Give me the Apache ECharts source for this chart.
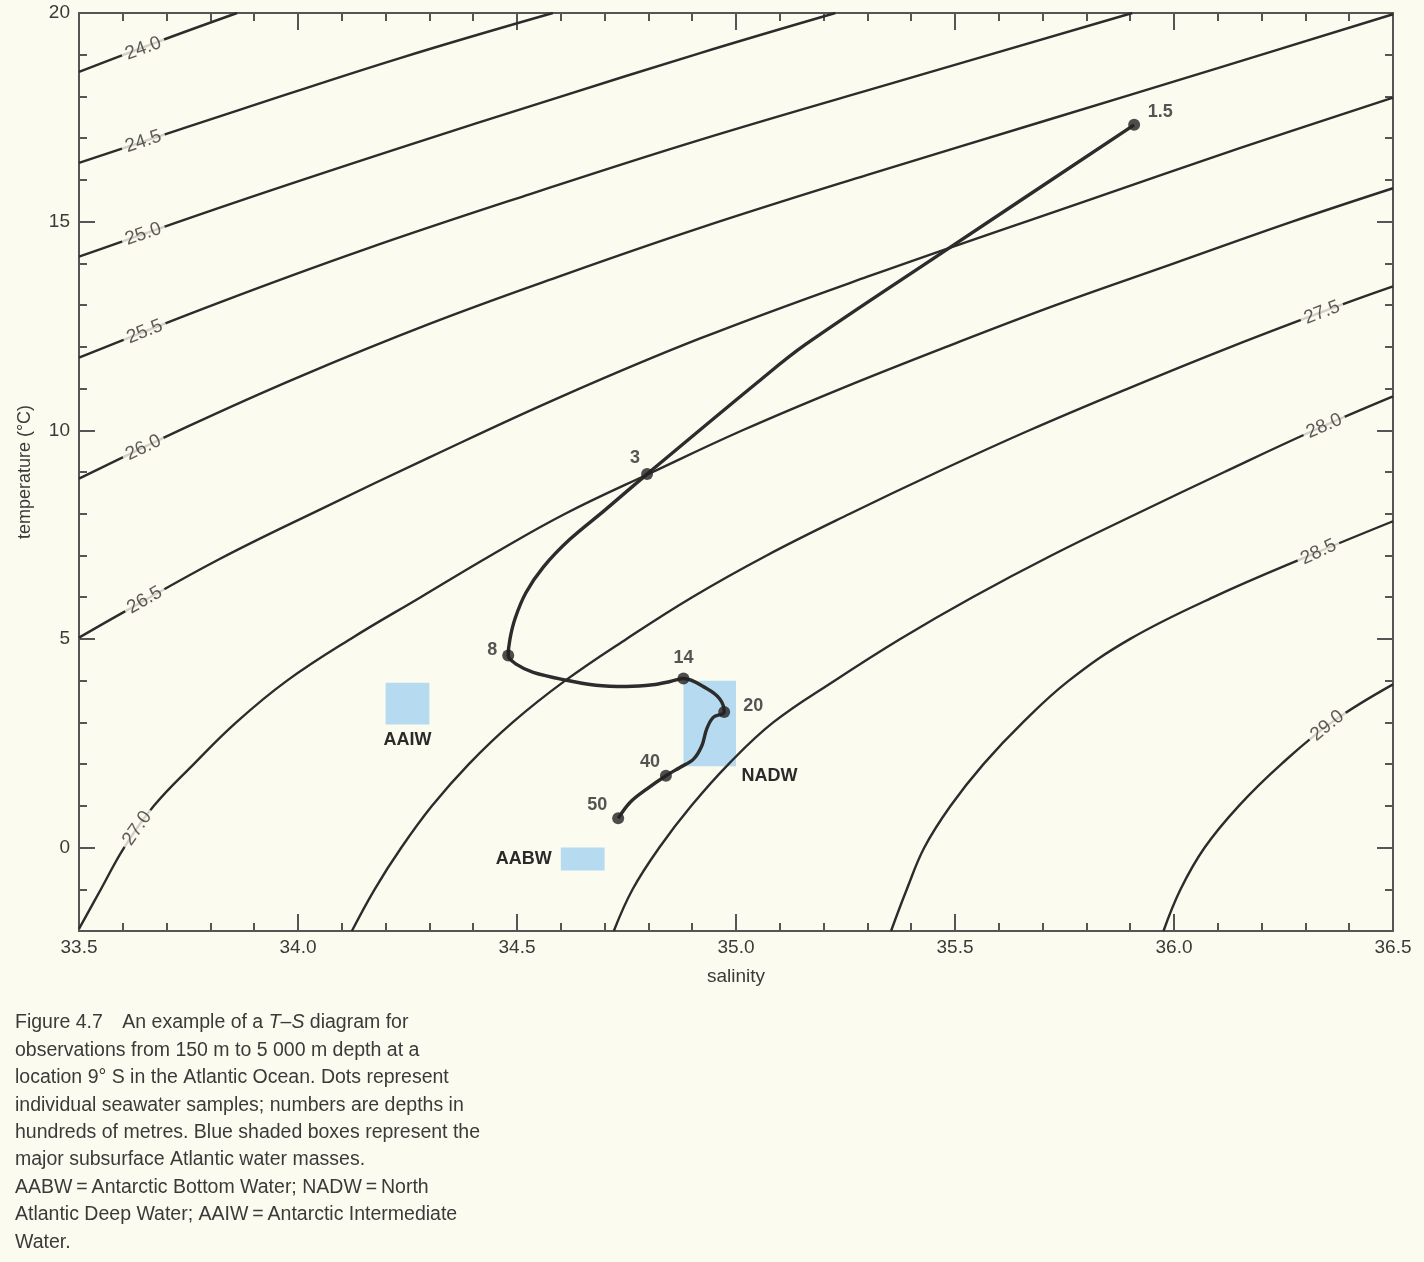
<!DOCTYPE html>
<html>
<head>
<meta charset="utf-8">
<script src="https://cdn.jsdelivr.net/npm/echarts@6/dist/echarts.min.js"></script>
<style>
  html, body { margin: 0; padding: 0; background: #fcfbef; }
  #chart { width: 1424px; height: 1262px; }
</style>
</head>
<body>
<div id="chart"></div>
<script>
// ---- isopycnals (sigma-t) as [salinity, temperature °C] ----
const sigma24_0 = [[33.5, 18.59], [33.68, 19.31], [33.861, 20.0]];
const sigma24_5 = [[33.5, 16.41], [33.87, 17.69], [34.233, 18.92], [34.582, 20.0]];
const sigma25_0 = [[33.5, 14.16], [33.85, 15.44], [34.233, 16.77], [34.58, 17.93], [34.918, 19.04], [35.227, 20.0]];
const sigma25_5 = [[33.5, 11.74], [33.82, 13.06], [34.151, 14.33], [34.53, 15.66], [34.918, 16.96], [35.4, 18.45], [35.905, 20.0]];
const sigma26_0 = [[33.5, 8.84], [33.75, 10.1], [34.0, 11.27], [34.3, 12.55], [34.6, 13.7], [34.918, 14.85], [35.3, 16.12], [35.7, 17.4], [36.1, 18.68], [36.5, 19.97]];
const sigma26_5 = [[33.5, 5.03], [33.6, 5.63], [33.82, 6.91], [34.05, 8.1], [34.3, 9.35], [34.6, 10.8], [34.918, 12.2], [35.3, 13.68], [35.8, 15.5], [36.15, 16.76], [36.5, 17.97]];
const sigma27_0 = [[33.5, -1.95], [33.55, -1.0], [33.603, 0.0], [33.671, 1.0], [33.762, 2.0], [33.859, 3.0], [33.975, 4.0], [34.12, 5.0], [34.28, 6.0], [34.44, 7.0], [34.61, 8.0], [34.81, 9.0], [35.015, 10.0], [35.24, 11.0], [35.48, 12.0], [35.73, 13.0], [36.0, 14.0], [36.27, 15.0], [36.5, 15.8]];
const sigma27_5 = [[34.123, -2.0], [34.175, -1.0], [34.236, 0.0], [34.306, 1.0], [34.39, 2.0], [34.49, 3.0], [34.61, 4.0], [34.75, 5.0], [34.9, 6.0], [35.07, 7.0], [35.26, 8.0], [35.46, 9.0], [35.67, 10.0], [35.895, 11.0], [36.13, 12.0], [36.38, 13.0], [36.5, 13.45]];
const sigma28_0 = [[34.721, -2.0], [34.764, -1.0], [34.825, 0.0], [34.898, 1.0], [34.983, 2.0], [35.085, 3.0], [35.225, 4.0], [35.375, 5.0], [35.54, 6.0], [35.72, 7.0], [35.915, 8.0], [36.115, 9.0], [36.32, 10.0], [36.5, 10.81]];
const sigma28_5 = [[35.354, -2.0], [35.39, -1.0], [35.43, 0.0], [35.49, 1.0], [35.565, 2.0], [35.655, 3.0], [35.76, 4.0], [35.9, 5.0], [36.09, 6.0], [36.31, 7.0], [36.5, 7.82]];
const sigma29_0 = [[35.976, -2.0], [36.015, -1.0], [36.07, 0.0], [36.148, 1.0], [36.245, 2.0], [36.36, 3.0], [36.5, 3.91]];

// contour labels
const contourLabelText = ['24.0', '24.5', '25.0', '25.5', '26.0', '26.5', '27.0', '27.5', '28.0', '28.5', '29.0'];
const contourLabelS = [33.647, 33.647, 33.647, 33.65, 33.647, 33.65, 33.633, 36.338, 36.343, 36.33, 36.35];
const contourLabelT = [19.15, 16.92, 14.7, 12.36, 9.58, 5.93, 0.46, 12.82, 10.1, 7.08, 2.92];

// ---- T–S profile at 9° S (line through the observations) ----
const profileS = [35.909, 35.47, 35.158, 35.055, 34.797, 34.70, 34.62, 34.56, 34.52, 34.496, 34.484, 34.480,
  34.499, 34.537, 34.613, 34.68, 34.75, 34.81, 34.85, 34.880,
  34.933, 34.963, 34.973,
  34.948, 34.933, 34.922, 34.903, 34.872, 34.840,
  34.796, 34.758, 34.731];
const profileT = [17.32, 14.25, 12.05, 11.2, 8.95, 8.08, 7.38, 6.72, 6.1, 5.5, 5.0, 4.60,
  4.39, 4.20, 4.01, 3.89, 3.86, 3.90, 3.98, 4.05,
  3.81, 3.56, 3.25,
  3.12, 2.84, 2.44, 2.12, 1.92, 1.72,
  1.40, 1.08, 0.70];

// samples (depth in hundreds of metres)
const sampleDepth = ['1.5', '3', '8', '14', '20', '40', '50'];
const sampleS = [35.909, 34.797, 34.480, 34.880, 34.973, 34.840, 34.731];
const sampleT = [17.32, 8.95, 4.60, 4.05, 3.25, 1.72, 0.70];

// water masses
const waterMassName = ['AAIW', 'NADW', 'AABW'];
const waterMassS = [[34.2, 34.3], [34.88, 35.0], [34.6, 34.7]];
const waterMassT = [[2.95, 3.95], [1.95, 4.0], [-0.55, 0.0]];

// axis tick labels
const tempTickLabels = [0, 5, 10, 15, 20];

// caption
const captionLines = [
  'observations from 150 m to 5 000 m depth at a',
  'location 9° S in the Atlantic Ocean. Dots represent',
  'individual seawater samples; numbers are depths in',
  'hundreds of metres. Blue shaded boxes represent the',
  'major subsurface Atlantic water masses.',
  'AABW\u2009=\u2009Antarctic Bottom Water; NADW\u2009=\u2009North',
  'Atlantic Deep Water; AAIW\u2009=\u2009Antarctic Intermediate',
  'Water.'
];

// ---------------- styling / layout ----------------
const BG = '#fcfbef';
const INK = '#2c2c2c';
const TXT = '#3a3a3a';
const AX = '#555555';
const FONT = "'Liberation Sans', Arial, sans-serif";
const BOX = '#b6dbf0';

const isopycnals = [sigma24_0, sigma24_5, sigma25_0, sigma25_5, sigma26_0, sigma26_5,
  sigma27_0, sigma27_5, sigma28_0, sigma28_5, sigma29_0];
const labelRotate = [20, 18.5, 19, 21.5, 25.5, 30, 55, 21, 23, 25, 39];
const depthLabelOffset = [[26, -13], [-12, -16], [-16, -6], [0, -21], [29, -6], [-16, -14], [-21, -13]];
const massLabelPos = ['bottom', [58, 86], 'left'];
const massLabelDist = [7, 0, 9];

const chart = echarts.init(document.getElementById('chart'), null, { renderer: 'canvas' });

const axisLineStyle = { color: AX, width: 2 };
function xAx(pos, showLabel) {
  return {
    type: 'value', position: pos, min: 33.5, max: 36.5, interval: 0.5,
    axisLine: { show: true, onZero: false, lineStyle: axisLineStyle },
    axisTick: { show: true, inside: true, length: 17, lineStyle: { color: AX, width: 2 } },
    minorTick: { show: true, splitNumber: 5, length: 8, lineStyle: { color: AX, width: 2 } },
    splitLine: { show: false }, minorSplitLine: { show: false },
    axisLabel: { show: showLabel, margin: 7, fontSize: 19, fontFamily: FONT, color: TXT,
      formatter: v => v.toFixed(1) },
    name: showLabel ? 'salinity' : '', nameLocation: 'middle', nameGap: 36,
    nameTextStyle: { fontSize: 19, fontFamily: FONT, color: TXT }
  };
}
function yMinor(pos, showLabel) {
  return {
    type: 'value', position: pos, min: -2, max: 20, interval: 1,
    axisLine: { show: true, onZero: false, lineStyle: axisLineStyle },
    axisTick: { show: true, inside: true, length: 8, lineStyle: { color: AX, width: 2 } },
    splitLine: { show: false },
    axisLabel: { show: showLabel, margin: 9, fontSize: 19, fontFamily: FONT, color: TXT,
      customValues: tempTickLabels },
    name: showLabel ? 'temperature (°C)' : '', nameLocation: 'middle', nameGap: 45, nameRotate: 90,
    nameTextStyle: { fontSize: 18, fontFamily: FONT, color: TXT }
  };
}
function yMajor(pos) {
  return {
    type: 'value', position: pos, min: -2, max: 20, interval: 1,
    axisLine: { show: false, onZero: false },
    axisTick: { show: true, inside: true, length: 16, customValues: tempTickLabels,
      lineStyle: { color: AX, width: 2 } },
    splitLine: { show: false },
    axisLabel: { show: false }
  };
}

const series = [];

// water-mass boxes
series.push({
  type: 'line', data: [], silent: true, z: 1,
  markArea: {
    silent: true,
    data: waterMassName.map((n, i) => [
      { name: n, coord: [waterMassS[i][0], waterMassT[i][1]],
        itemStyle: { color: BOX, opacity: 1 },
        label: { show: true, position: massLabelPos[i], distance: massLabelDist[i],
          fontSize: 18, fontWeight: 'bold', fontFamily: FONT, color: '#2a2a2a' } },
      { coord: [waterMassS[i][1], waterMassT[i][0]] }
    ])
  }
});

// isopycnal lines
isopycnals.forEach(d => {
  series.push({
    type: 'line', data: d, showSymbol: false, smooth: 0.4, silent: true, z: 2,
    lineStyle: { color: INK, width: 2.4 }
  });
});

// contour labels (with background to interrupt the line)
series.push({
  type: 'scatter', silent: true, z: 6, symbolSize: 1,
  itemStyle: { color: 'rgba(0,0,0,0)' },
  data: contourLabelText.map((t, i) => ({
    value: [contourLabelS[i], contourLabelT[i]],
    label: { show: true, position: 'inside', formatter: t, rotate: labelRotate[i],
      fontSize: 19, fontFamily: FONT, color: '#333', backgroundColor: BG, padding: [0, 4] }
  }))
});

// T-S profile
series.push({
  type: 'line', data: profileS.map((s, i) => [s, profileT[i]]),
  showSymbol: false, smooth: 0.35, silent: true, z: 4,
  lineStyle: { color: INK, width: 3.4 }
});

// samples
series.push({
  type: 'scatter', silent: true, z: 5, symbol: 'circle', symbolSize: 12,
  itemStyle: { color: '#222' },
  data: sampleDepth.map((d, i) => ({
    value: [sampleS[i], sampleT[i]],
    label: { show: true, position: 'inside', offset: depthLabelOffset[i], formatter: d,
      fontSize: 18, fontWeight: 'bold', fontFamily: FONT, color: '#2a2a2a' }
  }))
});

const graphics = [{
  type: 'text', x: 15, y: 1023,
  style: {
    text: 'Figure 4.7\u2003An example of a {i|T}–{i|S} diagram for',
    fontSize: 19.5, fontFamily: FONT, fill: TXT, verticalAlign: 'middle',
    rich: { i: { fontStyle: 'italic', fontSize: 19.5, fontFamily: FONT, fill: TXT } }
  }
}];
captionLines.forEach((t, i) => {
  graphics.push({
    type: 'text', x: 15, y: 1023 + (i + 1) * 27.4,
    style: { text: t, fontSize: 19.5, fontFamily: FONT, fill: TXT, verticalAlign: 'middle' }
  });
});

chart.setOption({
  backgroundColor: BG,
  animation: false,
  grid: { left: 79, right: 31, top: 13, bottom: 331, containLabel: false },
  xAxis: [xAx('bottom', true), xAx('top', false)],
  yAxis: [yMinor('left', true), yMajor('left'), yMinor('right', false), yMajor('right')],
  series: series,
  graphic: graphics
});
</script>
</body>
</html>
